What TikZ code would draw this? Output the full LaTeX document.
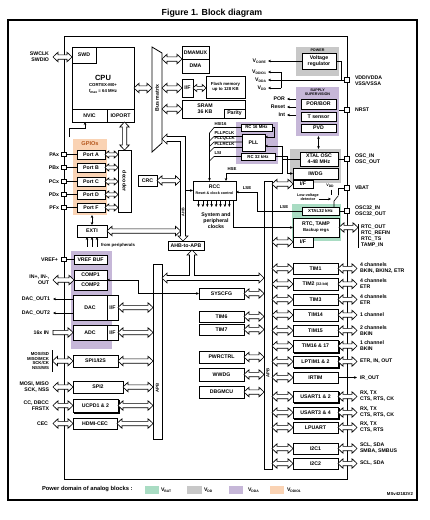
\documentclass[tikz,border=0pt]{standalone}
\usepackage{fontspec}
\setmainfont{Liberation Sans}
\usetikzlibrary{arrows.meta,calc,shadows}
\definecolor{cvbat}{HTML}{A9DCC3}
\definecolor{cvdd}{HTML}{C8C8C8}
\definecolor{cvdda}{HTML}{C6B7D8}
\definecolor{cvddio}{HTML}{FAD3B4}
\definecolor{cgpio}{HTML}{B5561C}
\newcommand\fsz{\fontsize{5.2}{6}\selectfont}
\newcommand\fsm{\fontsize{4.3}{4.9}\selectfont}
\newcommand\fxs{\fontsize{3.7}{4.2}\selectfont}
\newcommand\sbs[1]{\raisebox{-0.45ex}{\fontsize{3.4}{3.4}\selectfont #1}}
\newcommand\ahl{5pt}
\newcommand\ahw{4.8pt}
\newcommand\asw{2.2pt}
\newcommand\bx[7][]{\node[blk,minimum width={(#5-#3)*1pt},minimum height={(#6-#4)*1pt},#1] (#2) at ({(#3+#5)/2},{(#4+#6)/2}) {#7};}
\newcommand\HA[3][]{\path[hollow,#1] let \p1=(#2), \p2=(#3) in
 (\x1,\y1) -- (\x1+\ahl,\y1+\ahw) -- (\x1+\ahl,\y1+\asw) -- (\x2-\ahl,\y1+\asw) -- (\x2-\ahl,\y1+\ahw) -- (\x2,\y1) -- (\x2-\ahl,\y1-\ahw) -- (\x2-\ahl,\y1-\asw) -- (\x1+\ahl,\y1-\asw) -- (\x1+\ahl,\y1-\ahw) -- cycle;}
\newcommand\HAone[3][]{\path[hollow,#1] let \p1=(#2), \p2=(#3) in
 (\x1,\y1+\asw) -- (\x2-\ahl,\y1+\asw) -- (\x2-\ahl,\y1+\ahw) -- (\x2,\y1) -- (\x2-\ahl,\y1-\ahw) -- (\x2-\ahl,\y1-\asw) -- (\x1,\y1-\asw) -- cycle;}
\newcommand\VA[3][]{\path[hollow,#1] let \p1=(#2), \p2=(#3) in
 (\x1,\y1) -- (\x1+\ahw,\y1-\ahl) -- (\x1+\asw,\y1-\ahl) -- (\x1+\asw,\y2+\ahl) -- (\x1+\ahw,\y2+\ahl) -- (\x1,\y2) -- (\x1-\ahw,\y2+\ahl) -- (\x1-\asw,\y2+\ahl) -- (\x1-\asw,\y1-\ahl) -- (\x1-\ahw,\y1-\ahl) -- cycle;}
\begin{document}
\begin{tikzpicture}[x=1pt,y=-1pt,>={Stealth[length=3pt,width=2.6pt]},
 blk/.style={draw,fill=white,line width=0.7pt,inner sep=0pt,outer sep=0pt,align=center,font=\fsz\bfseries},
 reg/.style={blk,draw=none},
 lbl/.style={inner sep=0pt,outer sep=0pt,align=center,font=\fsz\bfseries},
 lblr/.style={lbl,anchor=east,align=right},
 lbll/.style={lbl,anchor=west,align=left},
 pad/.style={draw,fill=white,line width=0.8pt,minimum size=4.5pt,inner sep=0pt},
 conn/.style={line width=0.6pt},
 hollow/.style={draw,fill=white,line width=0.6pt,line join=miter},
 small/.code={\def\ahl{3.8pt}\def\ahw{3.6pt}\def\asw{1.6pt}},
 shad/.style={copy shadow={shadow xshift=1.3pt,shadow yshift=-1.3pt}}]
\useasboundingbox (0,0) rectangle (430,520);
\fill[white] (0,0) rectangle (430,520);

% title and frames
\node[font=\fontsize{8.8}{10}\selectfont\bfseries] (title) at (212,13) {Figure 1. Block diagram};
\draw[line width=1.3pt] (8,20) rectangle (417,500);

% power-domain regions
\bx[reg,fill=cvdd]{gpwr}{296}{47}{339}{76}{}
\bx[reg,fill=cvdda]{gsup}{296}{87}{339}{136}{}
\bx[reg,fill=cvdda]{gclk}{236}{122}{278}{164}{}
\bx[reg,fill=cvdd]{gxtal}{290}{149}{341}{183}{}
\bx[reg,fill=cvbat]{gbat}{292}{204}{341}{241}{}
\bx[reg,fill=cvddio]{ggpio}{73}{139}{107}{215}{}
\bx[reg,fill=cvdda]{gana}{71}{251}{112}{349}{}

\draw[line width=0.9pt] (64,36) rectangle (347,479);

% CPU
\bx{cpu}{72}{47}{134}{122}{}
\node[lbl,font=\fontsize{7.5}{8}\selectfont\bfseries] (cputxt) at (103,78) {CPU};
\node[lbl,font=\fsm\bfseries] (cortex) at (103,85) {CORTEX-M0+};
\node[lbl,font=\fsm\bfseries] (fmax) at (103,91.5) {f\sbs{max} = 64 MHz};
\bx{swd}{72}{47}{96}{63}{SWD}
\bx{nvic}{72}{109}{107}{122}{NVIC}
\bx{ioport}{107}{109}{134}{122}{IOPORT}
\node[lblr] (swlbl) at (49,57) {SWCLK\\SWDIO};
\coordinate (swp) at (53,57);

% bus matrix
\draw[line width=0.8pt,fill=white] (152,47) -- (162,53) -- (162,143) -- (152,152) -- cycle;
\node[lbl,rotate=90] (bmtxt) at (157,98) {Bus matrix};
\coordinate (bmL) at (152,88);
\coordinate (bmR) at (162,100);

% memories
\bx{dmamux}{182}{46}{209}{59}{DMAMUX}
\bx{dma}{182}{59}{209}{73}{DMA}
\bx{iff}{182}{79}{193}{97}{I/F}
\bx[font=\fsm\bfseries]{flash}{206}{76}{245}{98}{Flash memory\\up to 128 KB}
\bx{sram}{182}{100}{245}{118}{}
\node[lbl] (sramtxt) at (205,109) {SRAM\\36 KB};
\bx{parity}{224}{109}{245}{118}{Parity}

% power
\node[lbl,font=\fxs\bfseries] (pwrt) at (317.5,50) {POWER};
\bx{vreg}{302}{53}{336}{69}{Voltage\\regulator}
\node[lblr] (vcore) at (266,61) {V\sbs{CORE}};
\node[lblr] (vddio) at (266,72) {V\sbs{DDIO1}};
\node[lblr] (vdda) at (266,80) {V\sbs{DDA}};
\node[lblr] (vdd) at (266,88) {V\sbs{DD}};
\node[pad] (pvdd) at (347,80) {};
\node[lbll] (vddlbl) at (355,81) {VDD/VDDA\\VSS/VSSA};
\coordinate (vj) at (281,80);
\coordinate (vr2) at (341,80);

% supply supervision
\node[lbl,font=\fxs\bfseries] (suptxt) at (317.5,92) {SUPPLY\\SUPERVISION};
\bx{porbor}{301}{99}{336}{109}{POR/BOR}
\bx{tsens}{301}{112}{336}{121}{T sensor}
\bx{pvd}{301}{124}{336}{132}{PVD}
\node[lblr] (por) at (285,99) {POR};
\node[lblr] (rst) at (285,107) {Reset};
\node[lblr] (int) at (285,115) {Int};
\node[pad] (pnrst) at (347,110) {};
\node[lbll] (nrst) at (355,110) {NRST};

% clocks
\bx[font=\fsm\bfseries]{rc16}{241}{124}{272}{131}{RC 16 MHz}
\bx{pll}{242}{134}{265}{151}{PLL}
\bx[font=\fsm\bfseries]{rc32}{241}{153}{275}{160}{RC 32 kHz}
\node[lbll,font=\fsm\bfseries] (lhsi) at (214.5,124) {HSI16};
\node[lbll,font=\fsm\bfseries] (lpllp) at (214.5,133) {PLLPCLK};
\node[lbll,font=\fsm\bfseries] (lpllq) at (214.5,138.5) {PLLQCLK};
\node[lbll,font=\fsm\bfseries] (lpllr) at (214.5,144) {PLLRCLK};
\node[lbll,font=\fsm\bfseries] (llsi) at (214.5,153) {LSI};
\bx{xtal}{300}{152}{338}{166}{XTAL OSC\\4-48 MHz}
\bx{iwdg}{293}{168}{338}{179}{IWDG}
\bx{iwdgif}{293}{180}{313}{188}{I/F}
\node[pad] (posc) at (347,159) {};
\node[lbll] (losc) at (355,159) {OSC\_IN\\OSC\_OUT};
\node[pad] (pvbat) at (347,188) {};
\node[lbll] (lvbat) at (355,188) {VBAT};
\node[lbl,font=\fxs\bfseries] (vddsw) at (330,186) {V\sbs{DD}};
\node[lbl,font=\fxs\bfseries] (lvd) at (308,197) {Low-voltage\\detector};
\bx[font=\fsm\bfseries]{xtal32}{302}{207}{339}{215}{XTAL32 kHz}
\bx{rtc}{293}{218}{339}{237}{RTC, TAMP\\{\fsm Backup regs}}
\bx{rtcif}{293}{237}{313}{247}{I/F}
\node[pad] (posc32) at (347,211) {};
\node[lbll] (losc32) at (355,211) {OSC32\_IN\\OSC32\_OUT};
\coordinate (rtcb) at (358,227.5);
\node[lbll] (lrtc) at (361,236) {RTC\_OUT\\RTC\_REFIN\\RTC\_TS\\TAMP\_IN};
\node[lbl,font=\fsm\bfseries] (lhse) at (232,169.5) {HSE};
\node[lbl,font=\fsm\bfseries] (llse1) at (247,188.5) {LSE};
\node[lbl,font=\fsm\bfseries] (llse2) at (284,207.5) {LSE};

% RCC
\bx{rcc}{193}{181}{236}{200}{}
\node[lbl] (rcctxt) at (214.5,186.5) {RCC};
\node[lbl,font=\fxs\bfseries] (rccsub) at (214.5,193) {Reset \& clock control};
\node[lbl] (sysclk) at (216,221) {System and\\peripheral\\clocks};
\bx{crc}{138}{175}{157}{186}{CRC}

% GPIO
\node[lbl,text=cgpio,font=\fontsize{5.6}{6}\selectfont\bfseries] (gpiot) at (90,144) {GPIOs};
\bx{pa}{77}{150}{105}{159}{Port A}
\bx{pb}{77}{163}{105}{172}{Port B}
\bx{pc}{77}{177}{105}{186}{Port C}
\bx{pd}{77}{190}{105}{199}{Port D}
\bx{pf}{77}{203}{105}{212}{Port F}
\bx{dec}{118}{150}{131}{212}{}
\node[lbl,rotate=-90] (dectxt) at (124.5,181) {decoder};
\foreach \q/\t in {a/PAx,b/PBx,c/PCx,d/PDx,f/PFx}{
  \node[pad] (pp\q) at (64,0 |- p\q.west) {};
  \node[lblr] (lp\q) at (59,0 |- p\q.west) {\t};
}
\bx{exti}{77}{225}{107}{237}{EXTI}
\node[lbll,font=\fsm\bfseries] (lfrom) at (101,245) {from peripherals};

% AHB / APB
\bx{ahb2apb}{168}{241}{204}{250}{AHB-to-APB}
\coordinate (ahbL) at (180.5,200);
\coordinate (ahbR) at (185.5,200);
\bx{apbl}{153}{264}{162}{439}{}
\bx{apbr}{264}{181}{272}{469}{}
\node[lbl,rotate=90,font=\fsm\bfseries] (apbltxt) at (157.5,388) {APB};
\node[lbl,rotate=90,font=\fsm\bfseries] (apbrtxt) at (268,373) {APB};

% analog
\bx{vref}{74}{255}{107}{264}{VREF BUF}
\node[pad] (pvref) at (64,259.5) {};
\node[lblr] (lvref) at (58,259.5) {VREF+};
\bx{comp1}{74}{270}{107}{280}{COMP1}
\bx{comp2}{74}{280}{107}{290}{COMP2}
\node[lblr] (lcomp) at (49,280) {IN+, IN-,\\OUT};
\coordinate (inp) at (53,280);
\coordinate (cj) at (138,280);
\bx{dac}{73}{295}{107}{320}{DAC}
\bx{dacif}{107}{295}{118}{320}{I/F}
\node[lblr] (ldac1) at (50,299) {DAC\_OUT1};
\node[lblr] (ldac2) at (50,313) {DAC\_OUT2};
\bx{adc}{73}{325}{107}{340}{ADC}
\bx{adcif}{107}{325}{118}{340}{I/F}
\node[lblr] (ladc) at (49,332.5) {16x IN};

% left comms
\bx{spi1}{73}{355}{118}{367}{SPI1/I2S}
\node[lblr,font=\fsm\bfseries,align=right] (lspi1) at (49,361) {MOSI/SD\\MISO/MCK\\SCK/CK\\NSS/WS};
\coordinate (spib) at (52.5,361);
\bx{spi2}{73}{381}{123}{393}{SPI2}
\node[lblr] (lspi2) at (49,387) {MOSI, MISO\\SCK, NSS};
\coordinate (spi2b) at (53,387);
\bx[shad]{ucpd}{73}{399}{118}{412}{UCPD1 \& 2}
\node[lblr] (lucpd) at (49,405.5) {CC, DBCC\\FRSTX};
\coordinate (ucpdb) at (53,405.5);
\bx{hdmi}{73}{418}{117}{429}{HDMI-CEC}
\node[lblr] (lcec) at (48,423.5) {CEC};
\coordinate (cecb) at (53,423.5);

% middle APB blocks
\bx{syscfg}{199}{288}{244}{299}{SYSCFG}
\bx{tim6}{199}{311}{244}{322}{TIM6}
\bx{tim7}{199}{324}{244}{335}{TIM7}
\bx{pwrctrl}{199}{351}{244}{363}{PWRCTRL}
\bx{wwdg}{199}{368}{244}{381}{WWDG}
\bx{dbgmcu}{199}{386}{244}{398}{DBGMCU}

% right APB blocks
\bx{tim1}{293}{263}{338}{274}{TIM1}
\bx{tim2}{293}{278}{338}{290}{TIM2 {\fxs(32-bit)}}
\bx{tim3}{293}{294}{338}{305}{TIM3}
\bx{tim14}{293}{309}{338}{321}{TIM14}
\bx{tim15}{293}{325}{338}{336}{TIM15}
\bx[shad]{tim1617}{293}{340}{338}{352}{TIM16 \& 17}
\bx[shad]{lptim}{293}{356}{338}{367}{LPTIM1 \& 2}
\bx{irtim}{293}{372}{338}{383}{IRTIM}
\bx[shad]{usart12}{293}{391}{338}{402}{USART1 \& 2}
\bx[shad]{usart34}{293}{407}{338}{418}{USART3 \& 4}
\bx{lpuart}{293}{422}{338}{433}{LPUART}
\bx{i2c1}{293}{443}{338}{454}{I2C1}
\bx{i2c2}{293}{458}{338}{469}{I2C2}
\coordinate (rx) at (357,0);
\coordinate (lx) at (360,0);
\node[lbll] at (lx |- tim1.east) {4 channels\\BKIN, BKIN2, ETR};
\node[lbll] at (lx |- tim2.east) {4 channels\\ETR};
\node[lbll] at (lx |- tim3.east) {4 channels\\ETR};
\node[lbll] at (lx |- tim14.east) {1 channel};
\node[lbll] at (lx |- tim15.east) {2 channels\\BKIN};
\node[lbll] at (lx |- tim1617.east) {1 channel\\BKIN};
\node[lbll] at (lx |- lptim.east) {ETR, IN, OUT};
\node[lbll] (lir) at (lx |- irtim.east) {IR\_OUT};
\node[lbll] at (lx |- usart12.east) {RX, TX\\CTS, RTS, CK};
\node[lbll] at (lx |- usart34.east) {RX, TX\\CTS, RTS, CK};
\node[lbll] at (lx |- lpuart.east) {RX, TX\\CTS, RTS};
\node[lbll] at (lx |- i2c1.east) {SCL, SDA\\SMBA, SMBUS};
\node[lbll] at (lx |- i2c2.east) {SCL, SDA};

% legend
\node[lbll,font=\fontsize{5.8}{6}\selectfont\bfseries] (legt) at (42,489.5) {Power domain of analog blocks :};
\bx[reg,fill=cvbat]{lg1}{145}{486}{159}{494}{}
\node[lbll] at (161,490) {V\sbs{BAT}};
\bx[reg,fill=cvdd]{lg2}{187}{486}{202}{494}{}
\node[lbll] at (204,490) {V\sbs{DD}};
\bx[reg,fill=cvdda]{lg3}{229}{486}{243}{494}{}
\node[lbll] at (248,490) {V\sbs{DDA}};
\bx[reg,fill=cvddio]{lg4}{270}{486}{284}{494}{}
\node[lbll] at (287,490) {V\sbs{DDIO1}};
\node[lbl,anchor=east,font=\fsm\bfseries] at (413,494) {MSv42182V2};

% ================= connectors =================
\HA{swp}{swd.west |- swp}
\HA{cpu.east |- bmL}{bmL}
\HA{bmR |- dmamux.south west}{dmamux.south west}
\HA{bmR |- iff.west}{iff.west}
\HA[small]{iff.east}{flash.west |- iff.east}
\HA{bmR |- sram.west}{sram.west}
\HA[small]{pa.east}{dec.west |- pa.east}
\HA[small]{pb.east}{dec.west |- pb.east}
\HA[small]{pc.east}{dec.west |- pc.east}
\HA[small]{pd.east}{dec.west |- pd.east}
\HA[small]{pf.east}{dec.west |- pf.east}
\VA{ioport.south -| dec.north}{dec.north}
\HA{crc.east}{ahbL |- crc.east}
\HA{exti.east}{ahbL |- exti.east}
% AHB bus
\draw[hollow] (162,139) -- (167,134) -- (167,136.5) -- (185.5,136.5) -- (185.5,236) -- (188,236) -- (183,241) -- (178,236) -- (180.5,236) -- (180.5,141.5) -- (167,141.5) -- (167,144) -- cycle;
\node[lbl,rotate=90,font=\fxs\bfseries] (ahbtxt) at (183,212) {AHB};
% APB T bus
\draw[hollow] (192,250) -- (197,255) -- (194.5,255) -- (194.5,275.5) -- (259,275.5) -- (259,273) -- (264,278) -- (259,283) -- (259,280.5) -- (167,280.5) -- (167,283) -- (162,278) -- (167,273) -- (167,275.5) -- (189.5,275.5) -- (189.5,255) -- (187,255) -- cycle;
% analog & comms to APB
\HA{inp}{comp1.south west}
\HA{dacif.east}{apbl.west |- dacif.east}
\HAone{ladc.east -| inp}{adc.west |- ladc.east}
\HA{adcif.east}{apbl.west |- adcif.east}
\HA{spib}{spi1.west |- spib}
\HA{spi1.east}{apbl.west |- spi1.east}
\HA{spi2b}{spi2.west |- spi2b}
\HA{spi2.east}{apbl.west |- spi2.east}
\HA{ucpdb}{ucpd.west |- ucpdb}
\HA{ucpd.east}{apbl.west |- ucpd.east}
\HA{cecb}{hdmi.west |- cecb}
\HA{hdmi.east}{apbl.west |- hdmi.east}
\foreach \bb in {syscfg,tim6,tim7,pwrctrl,wwdg,dbgmcu}{\HA{\bb.east}{apbr.west |- \bb.east}}
\foreach \bb in {iwdgif,rtcif,tim1,tim2,tim3,tim14,tim15,tim1617,lptim,irtim,usart12,usart34,lpuart,i2c1,i2c2}{\HA{apbr.east |- \bb.west}{\bb.west}}
\foreach \bb in {tim1,tim2,tim3,tim14,tim15,tim1617,lptim,usart12,usart34,lpuart,i2c1,i2c2}{\HA{\bb.east}{rx |- \bb.east}}
\HA{rtc.east}{rtcb}
\draw[conn] (rtcb |- 0,224) -- (rtcb |- 0,248);
\draw[conn] (spib |- 0,350) -- (spib |- 0,372);
\draw[conn,->] (irtim.east) -- (rx |- irtim.east);

% thin connectors
\draw[conn,->] (vreg.west) -- ([xshift=2pt]vcore.east);
\draw[conn] (pvdd.west) -- (vj);
\draw[conn] (vj |- vddio) -- (vj |- vdd);
\draw[conn,->] (vj |- vddio) -- ([xshift=2pt]vddio.east);
\draw[conn,->] (vj |- vdda) -- ([xshift=2pt]vdda.east);
\draw[conn,->] (vj |- vdd) -- ([xshift=2pt]vdd.east);
\draw[conn] (vreg.east) -| (vr2);
\draw[conn,->] (gsup.west |- por) -- ([xshift=2pt]por.east);
\draw[conn,->] (gsup.west |- rst) -- ([xshift=2pt]rst.east);
\draw[conn,->] (gsup.west |- int) -- ([xshift=2pt]int.east);
\draw[conn] (gsup.east |- pnrst) -- (pnrst.west);
\draw[conn,<->] (gsup.south -| pvd.south) -- (gxtal.north -| pvd.south);
% clock tree
\draw[conn,->] (rc16.east) -- (274.5,127.5) -- (274.5,137) -- (pll.east |- 0,137);
\draw[conn] (rc16.west) -- (214,127.5) -- (209.5,133) -- (209.5,176);
\draw[conn] (pll.west |- 0,136.5) -- (214,136.5) -- (209.5,141) -- (209.5,176);
\draw[conn] (pll.west |- 0,142) -- (214,142) -- (209.5,146.5) -- (209.5,176);
\draw[conn] (pll.west |- 0,147.5) -- (214,147.5) -- (209.5,152) -- (209.5,176);
\draw[conn] (rc32.west) -- (214,156.5) -- (209.5,161) -- (209.5,176);
\draw[conn,->] (209.5,174) -- (rcc.north -| 209.5,0);
\coordinate (hsej) at (282,159);
\draw[conn] (xtal.west) -- (hsej);
\draw[conn,->] (hsej) -- (282,146) -- (pll.east |- 0,146);
\draw[conn,->] (hsej) -- (282,173) -- (226,173) -- (rcc.north -| 226,0);
\draw[conn,->] (rc32.east) -- (287,156.5) -- (287,173.5) -- (iwdg.west);
\draw[conn] (xtal.east) -- (posc.west);
% VBAT switch
\draw[conn] (pvbat.west) -- (338,188) -- (338,195);
\draw[conn] (331,189.5) -- (331,195);
\draw[conn] (334,207) -- (334,201) -- (338.5,195.5);
\draw[conn,->] (lvd.east |- 0,199) -- (331,199);
\draw[conn] (xtal32.east) -- (posc32.west);
% LSE and RCC
\coordinate (lsej) at (257,192);
\draw[conn,->] (xtal32.west) -- (lsej |- xtal32.west) -- (lsej) -- (rcc.east |- lsej);
\draw[conn,->] ([xshift=-2.5pt]rcc.south east) -- ([xshift=-2.5pt]rcc.south east |- rtc.west) -- (rtc.west);
\draw[conn,->] (ahbR |- rcc.west) -- (rcc.west);
\foreach \i in {0,...,7}{\draw[conn,->] ([xshift={(5.5+4.4*\i)*1pt}]rcc.south west) -- ++(0,7);}
% GPIO
\foreach \q in {a,b,c,d,f}{\draw[conn] (pp\q.east) -- (p\q.west);}
\draw[conn,<->] (ggpio.south -| exti.north) -- (exti.north);
\foreach \d in {-5,0,5}{\draw[conn,<-] ([xshift=\d pt]exti.south) -- ++(0,10);}
\draw[conn,->] (69,137) -- (69,128.5) -- (85,128.5) -- (nvic.south -| 85,0);
% analog
\draw[conn] (pvref.east) -- (vref.west);
\draw[conn,<->] (comp1.south east) -- (cj) -- (cj |- syscfg.west) -- (syscfg.west);
\draw[conn,->] (dac.west |- ldac1) -- ([xshift=3pt]ldac1.east);
\draw[conn,->] (dac.west |- ldac2) -- ([xshift=3pt]ldac2.east);
\end{tikzpicture}
\end{document}
